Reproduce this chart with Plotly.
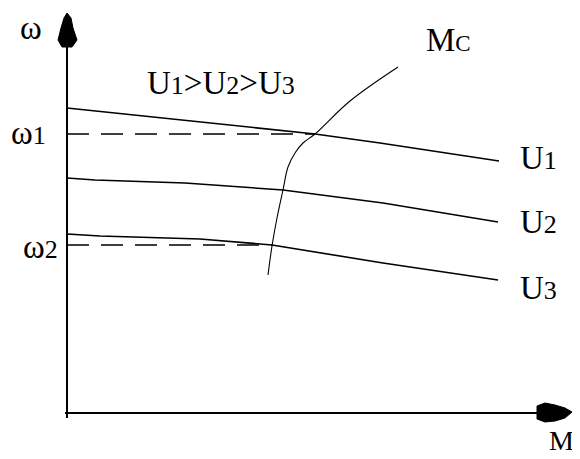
import plotly.graph_objects as go

# Data (torque M on x, speed omega on y; arbitrary units)
u1_m = [0, 133, 248, 313, 432]
u1_w = [305, 291, 279, 270, 252]
u2_m = [0, 28, 118, 216, 316, 431]
u2_w = [235, 233, 230, 223, 210, 191]
u3_m = [0, 33, 133, 205, 316, 431]
u3_w = [179, 177, 174, 168, 150, 133]
mc_m = [201, 205, 210, 216, 221, 228, 236, 248, 283, 331]
mc_w = [138, 167, 195, 223, 246, 260, 270, 279, 312, 346]
w1_m = [0, 248]
w1_w = [279, 279]
w2_m = [0, 205]
w2_w = [168, 168]
curve_labels = ["U<span style='font-size:26px'>1</span>",
                "U<span style='font-size:26px'>2</span>",
                "U<span style='font-size:26px'>3</span>"]

FONT = "Liberation Serif, Times New Roman, serif"
fig = go.Figure()

for xs, ys in [(u1_m, u1_w), (u2_m, u2_w), (u3_m, u3_w)]:
    fig.add_trace(go.Scatter(x=xs, y=ys, mode="lines", line=dict(color="black", width=1.6),
                             hoverinfo="skip"))
for xs, ys in [(w1_m, w1_w), (w2_m, w2_w)]:
    fig.add_trace(go.Scatter(x=xs, y=ys, mode="lines",
                             line=dict(color="black", width=1.5, dash="22px,12px"), hoverinfo="skip"))
fig.add_trace(go.Scatter(x=mc_m, y=mc_w, mode="lines", line=dict(color="black", width=1.1),
                         line_shape="spline", hoverinfo="skip"))

# axes with arrows
fig.add_shape(type="line", x0=0, y0=-5, x1=0, y1=368, line=dict(color="black", width=2))
fig.add_shape(type="line", x0=-2, y0=0, x1=472, y1=0, line=dict(color="black", width=2))
fig.add_shape(type="path",
              path="M 0,400 L 4,395 L 6,385 L 10,373 L 5,366 L -5,366 L -9,373 L -6,385 L -3,395 Z",
              fillcolor="black", line=dict(color="black", width=1))
fig.add_shape(type="path",
              path="M 470,7 L 478,10 L 488,8 L 498,5 L 505,1 L 498,-5 L 488,-8 L 478,-9 L 470,-6 Z",
              fillcolor="black", line=dict(color="black", width=1))

fs = 33
def ann(x, y, text, xanchor="center", size=fs):
    fig.add_annotation(x=x, y=y, text=text, showarrow=False, xanchor=xanchor, yanchor="middle",
                       font=dict(family=FONT, size=size, color="black"))

ann(-36, 385, "ω")
ann(-39, 280, "ω<span style='font-size:26px'>1</span>")
ann(-27, 166, "ω<span style='font-size:26px'>2</span>")
ann(154, 330, curve_labels[0] + "&gt;" + curve_labels[1] + "&gt;" + curve_labels[2])
ann(451, 255, curve_labels[0], xanchor="left")
ann(451, 191, curve_labels[1], xanchor="left")
ann(451, 125, curve_labels[2], xanchor="left")
ann(381, 373, "M<span style='font-size:23px'>C</span>")
ann(494, -27, "M", size=28)

# page body has an 8px margin: size the figure so the drawing lands where the reference has it
fig.update_layout(width=572, height=451, margin=dict(l=0, r=0, t=0, b=0),
                  paper_bgcolor="white", plot_bgcolor="white", showlegend=False,
                  xaxis=dict(range=[-59, 513], visible=False),
                  yaxis=dict(range=[-46, 405], visible=False))
fig.write_html("out.html")
